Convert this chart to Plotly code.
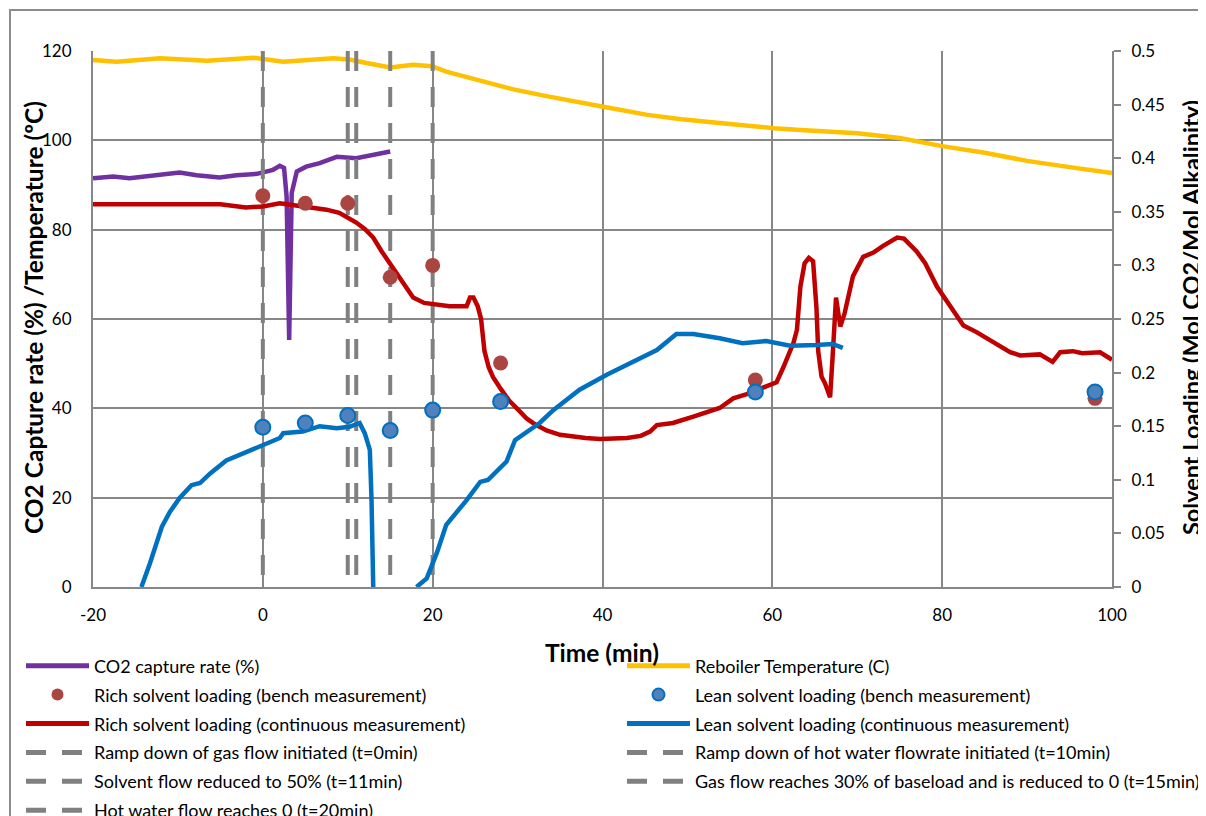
import plotly.graph_objects as go

# ---------------- data ----------------
capture_t = [-20, -17.6, -15.7, -13.7, -11.8, -9.8, -7.8, -5.1, -3.1, -0.7, 1.2, 2.0, 2.5,
             2.8, 3.1, 3.4, 4.0, 5.1, 6.7, 8.7, 11, 13, 15]
capture_v = [91.5, 91.9, 91.5, 91.9, 92.2, 92.8, 92.2, 91.7, 92.2, 92.5, 93.4, 94.3, 93.8,
             87.4, 55.3, 88.2, 93.0, 94.1, 94.9, 96.3, 96.0, 96.7, 97.5]

reboiler_t = [-20, -17.2, -12.1, -6.6, -1.1, 2.4, 8.3, 10.2, 12.2, 15, 17.7, 19.9, 21.6, 25.6,
              29.5, 33.4, 37.3, 40.1, 45.3, 49.3, 53.2, 57.1, 60.2, 63.3, 70, 75, 80, 85, 90, 95, 100]
reboiler_v = [118.0, 117.6, 118.4, 117.8, 118.5, 117.6, 118.4, 118.1, 117.3, 116.3, 116.9, 116.6,
              115.4, 113.5, 111.4, 109.9, 108.4, 107.5, 105.7, 104.7, 104.0, 103.2, 102.7, 102.3,
              101.6, 100.5, 98.7, 97.2, 95.4, 94.0, 92.7]

rich_bench_t = [0, 5, 10, 15, 20, 28, 58, 98]
rich_bench_v = [0.365, 0.358, 0.358, 0.289, 0.300, 0.209, 0.193, 0.176]

lean_bench_t = [0, 5, 10, 15, 20, 28, 58, 98]
lean_bench_v = [0.149, 0.153, 0.160, 0.146, 0.165, 0.173, 0.182, 0.182]

rich_t = [-20, -15, -10, -5, -2, 0, 2, 5, 7.5, 9, 10, 11, 12, 13, 14, 15, 16, 17, 17.7, 19, 20,
          22, 24, 24.4, 24.8, 25.3, 25.7, 26.1, 26.6, 27.1, 28, 29, 30, 31.1, 32, 33.4, 35, 36.5,
          38, 39.7, 41, 42.9, 44.5, 45.6, 46.4, 48.3, 50.7, 52, 53.8, 55.4, 57, 58.9, 60.5, 61.3,
          61.7, 62.5, 62.9, 63.3, 63.8, 64.3, 64.8, 65.2, 65.4, 65.8, 66.2, 66.8, 67.1, 67.5, 68,
          68.5, 69.5, 70.7, 71.9, 73, 74.7, 75.5, 77, 78, 79.4, 81, 82.5, 84, 86, 88, 89.2, 91.5,
          93, 93.9, 95.4, 96.5, 98.6, 100]
rich_v = [0.357, 0.357, 0.356, 0.357, 0.354, 0.355, 0.358, 0.355, 0.352, 0.349, 0.345, 0.340,
          0.334, 0.326, 0.313, 0.301, 0.289, 0.277, 0.270, 0.265, 0.264, 0.262, 0.262, 0.270,
          0.270, 0.262, 0.250, 0.220, 0.205, 0.196, 0.185, 0.174, 0.166, 0.157, 0.152, 0.146,
          0.142, 0.140, 0.139, 0.138, 0.138, 0.139, 0.141, 0.145, 0.151, 0.153, 0.159, 0.162,
          0.167, 0.176, 0.180, 0.186, 0.191, 0.205, 0.213, 0.228, 0.240, 0.280, 0.302, 0.307,
          0.304, 0.260, 0.220, 0.196, 0.190, 0.177, 0.215, 0.270, 0.243, 0.255, 0.290, 0.308,
          0.312, 0.318, 0.326, 0.325, 0.313, 0.302, 0.280, 0.262, 0.244, 0.238, 0.229, 0.219,
          0.216, 0.217, 0.210, 0.219, 0.220, 0.218, 0.219, 0.212]

lean_t = [-14.3, -13.3, -11.9, -10.95, -9.8, -8.4, -7.4, -6.2, -4.3, -2.3, 0, 2, 2.4, 4.7, 6.7,
          8.7, 10.2, 11.4, 12.0, 12.6, 12.8, 13.0, None,
          18.1, 19.3, 20.5, 21.6, 24, 25.6, 26.5, 28.7, 29.7, 31.1, 32.6, 34.2, 37.3, 40.5, 43.6,
          46.4, 48.7, 50.7, 53.8, 56.5, 59.3, 62.1, 65.2, 67.1, 68.3]
lean_v = [0, 0.022, 0.056, 0.070, 0.083, 0.095, 0.097, 0.106, 0.118, 0.125, 0.1325, 0.139,
          0.1435, 0.145, 0.150, 0.148, 0.1495, 0.153, 0.1435, 0.128, 0.081, 0, None,
          0, 0.008, 0.032, 0.058, 0.081, 0.098, 0.0998, 0.117, 0.137, 0.145, 0.153, 0.165,
          0.184, 0.198, 0.210, 0.221, 0.236, 0.236, 0.232, 0.2275, 0.2295, 0.225, 0.2257,
          0.2267, 0.223]

event_t = [0, 10, 11, 15, 20]
event_names = ["Ramp down of gas flow initiated (t=0min)",
               "Ramp down of hot water flowrate initiated (t=10min)",
               "Solvent flow reduced to 50% (t=11min)",
               "Gas flow reaches 30% of baseload and is reduced to 0 (t=15min)",
               "Hot water flow reaches 0 (t=20min)"]
event_legend = ["legend", "legend2", "legend", "legend2", "legend"]
event_rank = [40, 40, 50, 50, 60]
y_range = [0, 120]

x_ticks = [-20, 0, 20, 40, 60, 80, 100]
x_labels = ["-20", "0", "20", "40", "60", "80", "100"]
y_ticks = [0, 20, 40, 60, 80, 100, 120]
y2_ticks = [0, 0.05, 0.1, 0.15, 0.2, 0.25, 0.3, 0.35, 0.4, 0.45, 0.5]
y2_labels = ["0", "0.05", "0.1", "0.15", "0.2", "0.25", "0.3", "0.35", "0.4", "0.45", "0.5"]

# ---------------- figure ----------------
FONT = "Lato"
GRID = "#878787"
fig = go.Figure()

fig.add_trace(go.Scatter(x=capture_t, y=capture_v, mode="lines", name="CO2 capture rate (%)",
                         line=dict(color="#7030A0", width=4.5), legend="legend", legendrank=10,
                         legendgroup="a"))
fig.add_trace(go.Scatter(x=reboiler_t, y=reboiler_v, mode="lines", name="Reboiler Temperature (C)",
                         line=dict(color="#FFC000", width=4.5), legend="legend2", legendrank=10,
                         legendgroup="b"))
for i, (t, nm) in enumerate(zip(event_t, event_names)):
    fig.add_trace(go.Scatter(x=[t, t], y=[y_range[1], y_range[0]], mode="lines", name=nm,
                             line=dict(color="#808080", width=4, dash="20px,16px"),
                             legend=event_legend[i], legendrank=event_rank[i],
                             legendgroup="e%d" % i))

fig.add_trace(go.Scatter(x=rich_t, y=rich_v, yaxis="y2", mode="lines",
                         name="Rich solvent loading (continuous measurement)",
                         line=dict(color="#C00000", width=4.5), legend="legend", legendrank=30,
                         legendgroup="c"))
fig.add_trace(go.Scatter(x=lean_t, y=lean_v, yaxis="y2", mode="lines", connectgaps=False,
                         name="Lean solvent loading (continuous measurement)",
                         line=dict(color="#0070C0", width=4.5), legend="legend2", legendrank=30,
                         legendgroup="d"))
fig.add_trace(go.Scatter(x=rich_bench_t, y=rich_bench_v, yaxis="y2", mode="markers",
                         name="Rich solvent loading (bench measurement)",
                         marker=dict(color="#AA4541", size=15, line=dict(width=0)),
                         legend="legend", legendrank=20, legendgroup="f"))
fig.add_trace(go.Scatter(x=lean_bench_t, y=lean_bench_v, yaxis="y2", mode="markers",
                         name="Lean solvent loading (bench measurement)",
                         marker=dict(color="#4F81BD", size=15, line=dict(width=2, color="#0070C0")),
                         legend="legend2", legendrank=20, legendgroup="g"))

# page body has an 8px margin, so screen position = figure position + 8
OFF = 8
W, H = 1206, 816
S_L, S_T, S_R, S_B = 93, 51, 1112, 587          # plot area in screen pixels
PL, PT = S_L - OFF, S_T - OFF
PR = W - (S_R - OFF)
PB = H - (S_B - OFF)
pw, ph = S_R - S_L, S_B - S_T

def px_x(p):
    return (p - S_L) / pw

def px_y(p):
    return (S_B - p) / ph

legend_common = dict(orientation="v", traceorder="grouped", tracegroupgap=2.5, itemwidth=63,
                     itemsizing="constant", font=dict(family=FONT, size=18, color="#000000"),
                     bgcolor="rgba(0,0,0,0)", xanchor="left", yanchor="top", borderwidth=0)

title_font = dict(family=FONT, size=24.5, color="#000000")
fig.update_layout(
    width=W, height=H,
    margin=dict(l=PL, r=PR, t=PT, b=PB, autoexpand=False),
    paper_bgcolor="white", plot_bgcolor="white",
    font=dict(family=FONT, color="#000000"),
    showlegend=True,
    legend=dict(x=px_x(21), y=px_y(647.5), **legend_common),
    legend2=dict(x=px_x(622), y=px_y(647.5), **legend_common),
    xaxis=dict(range=[-20, 100], tickvals=x_ticks, ticktext=x_labels, showgrid=True,
               gridcolor=GRID, gridwidth=2,
               zeroline=False, showline=True, linecolor=GRID, linewidth=2, automargin=False,
               ticks="", ticklabelstandoff=12, tickfont=dict(family=FONT, size=17, color="#000000")),
    yaxis=dict(range=y_range, tickvals=y_ticks, showgrid=True, gridcolor=GRID, gridwidth=2,
               zeroline=False, showline=True, linecolor=GRID, linewidth=2, ticks="",
               ticklabelstandoff=16, automargin=False,
               tickfont=dict(family=FONT, size=17, color="#000000")),
    yaxis2=dict(range=[0, 0.5], tickvals=y2_ticks, ticktext=y2_labels, overlaying="y",
                side="right", showgrid=False, zeroline=False, showline=True, linecolor=GRID,
                linewidth=2, ticks="outside", ticklen=7, tickwidth=2, tickcolor=GRID,
                ticklabelstandoff=7, automargin=False,
                tickfont=dict(family=FONT, size=17, color="#000000")),
    annotations=[
        dict(text="<b>Time (min)</b>", xref="paper", yref="paper", x=px_x(602), y=px_y(652),
             showarrow=False, font=title_font, xanchor="center", yanchor="middle"),
        dict(text="<b>CO2 Capture rate (%) /Temperature (ºC)</b>", xref="paper", yref="paper",
             x=px_x(33), y=px_y(318), textangle=-90, showarrow=False, font=title_font,
             xanchor="center", yanchor="middle"),
        dict(text="<b>Solvent Loading (Mol CO2/Mol Alkalinity)</b>", xref="paper", yref="paper",
             x=px_x(1191), y=px_y(318), textangle=-90, showarrow=False,
             font=dict(family=FONT, size=23.5, color="#000000"),
             xanchor="center", yanchor="middle"),
    ],
    shapes=[
        dict(type="rect", xref="paper", yref="paper", x0=px_x(10), x1=px_x(1240),
             y0=px_y(850), y1=px_y(10), line=dict(color="#8C8C8C", width=2)),
    ],
)

fig.write_html("out.html")
